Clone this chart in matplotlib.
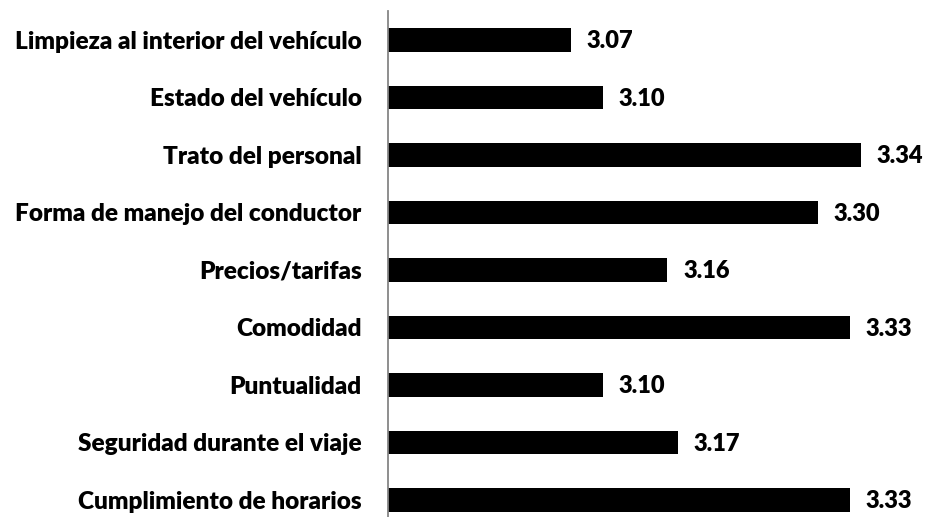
import matplotlib
matplotlib.use("Agg")
import matplotlib.pyplot as plt

# data, top to bottom as in the chart
categories = [
    "Limpieza al interior del vehículo",
    "Estado del vehículo",
    "Trato del personal",
    "Forma de manejo del conductor",
    "Precios/tarifas",
    "Comodidad",
    "Puntualidad",
    "Seguridad durante el viaje",
    "Cumplimiento de horarios",
]
scores = [3.07, 3.10, 3.34, 3.30, 3.16, 3.33, 3.10, 3.17, 3.33]

plt.rcParams['font.family'] = ['Lato', 'DejaVu Sans']

fig = plt.figure(figsize=(9.26, 5.17), dpi=100)
ax = fig.add_axes([388 / 926, 0.0, 537 / 926, 505.75 / 517])

xmin = 2.9
ypos = list(range(len(categories)))[::-1]
ax.barh(ypos, [s - xmin for s in scores], left=xmin, height=0.41, color="black")

# value labels just right of each bar end
for y, s in zip(ypos, scores):
    ax.annotate(f"{s:.2f}", xy=(s, y), xytext=(11.5, -1), textcoords="offset points",
                ha="left", va="center", fontsize=17, fontweight="heavy", color="black")

ax.set_xlim(xmin, 3.4)
ax.set_ylim(-0.296, 8.5)
ax.set_yticks(ypos)
ax.set_yticklabels(categories, fontsize=17.6, fontweight="heavy")
ax.set_xticks([])
ax.tick_params(axis="y", length=0, pad=19)

for side in ["top", "right", "bottom"]:
    ax.spines[side].set_visible(False)
ax.spines["left"].set_color("#868686")
ax.spines["left"].set_linewidth(1.3)

fig.savefig("out.png", dpi=100)
